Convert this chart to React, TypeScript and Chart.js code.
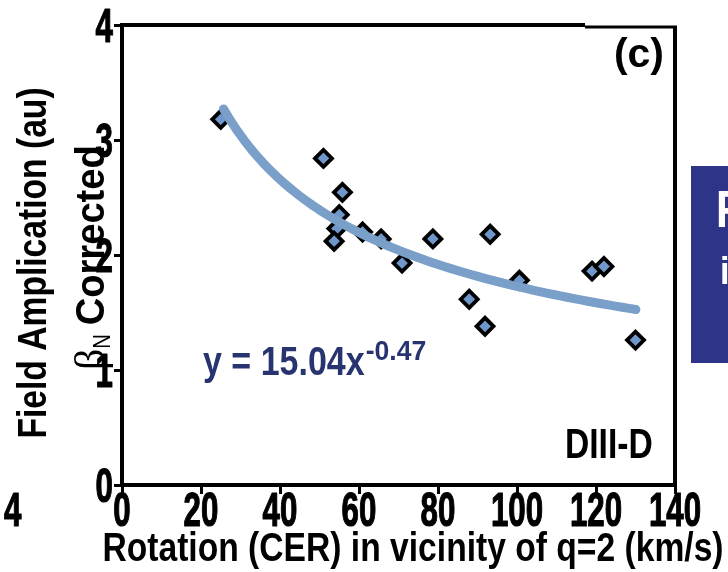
import React, { useEffect, useRef } from 'react';
import { Chart, registerables } from 'chart.js';

Chart.register(...registerables);

// Measured shots: toroidal rotation near q=2 vs. beta_N-corrected field amplification
const rotationKms = [25.0, 51.0, 55.8, 55.0, 54.4, 53.7, 60.9, 65.6, 70.9, 78.7, 93.2, 87.9, 91.9, 100.6, 119.0, 122.0, 130.0];
const fieldAmplification = [3.18, 2.84, 2.545, 2.35, 2.23, 2.12, 2.2, 2.14, 1.93, 2.14, 2.18, 1.615, 1.38, 1.78, 1.86, 1.9, 1.26];

// Power-law fit y = a * x^b, as quoted in the annotation
const fitCoefficient = 15.04;
const fitExponent = -0.47;
const fitDomain = [25.7, 130.1];
const fitSamples = 60;

const xTickValues = [0, 20, 40, 60, 80, 100, 120, 140];
const yTickValues = [0, 1, 2, 3, 4];

const SANS = '"Liberation Sans", Arial, sans-serif';

type TextStyle = {
  size: number;
  weight?: string;
  family?: string;
  sx?: number;
  sy?: number;
  color?: string;
  align?: CanvasTextAlign;
  stroke?: number;
};

function drawText(ctx: CanvasRenderingContext2D, text: string, x: number, y: number, st: TextStyle): number {
  const sx = st.sx ?? 1;
  ctx.save();
  ctx.translate(x, y);
  ctx.scale(sx, st.sy ?? 1);
  ctx.font = `${st.weight ?? 'bold'} ${st.size}px ${st.family ?? SANS}`;
  ctx.fillStyle = st.color ?? '#000';
  ctx.textAlign = st.align ?? 'left';
  ctx.textBaseline = 'alphabetic';
  ctx.fillText(text, 0, 0);
  if (st.stroke) {
    ctx.strokeStyle = st.color ?? '#000';
    ctx.lineWidth = st.stroke;
    ctx.lineJoin = 'round';
    ctx.strokeText(text, 0, 0);
  }
  const w = ctx.measureText(text).width * sx;
  ctx.restore();
  return w;
}

const tickStyle: TextStyle = { size: 46, sx: 0.68, sy: 1.03, stroke: 1.2 };
const titleStyle: TextStyle = { size: 41, sx: 0.82 };
const EQ_COLOR = '#28346f';

const annotations = {
  id: 'annotations',
  afterDatasetsDraw(chart: Chart) {
    const ctx = chart.ctx;
    const area = chart.chartArea;
    // frame: top and right edges
    ctx.save();
    ctx.strokeStyle = '#000';
    ctx.lineCap = 'butt';
    ctx.lineWidth = 4;
    ctx.beginPath();
    ctx.moveTo(area.left, area.top);
    ctx.lineTo(585, area.top);
    ctx.stroke();
    ctx.lineWidth = 3;
    ctx.beginPath();
    ctx.moveTo(585, area.top + 2);
    ctx.lineTo(area.right + 2, area.top + 2);
    ctx.stroke();
    ctx.lineWidth = 4;
    ctx.beginPath();
    ctx.moveTo(area.right, area.top + 1);
    ctx.lineTo(area.right, area.bottom + 2);
    ctx.stroke();
    ctx.restore();
  },
  afterDraw(chart: Chart) {
    const ctx = chart.ctx;
    const xs = chart.scales.x;
    const ys = chart.scales.y;

    // tick labels
    xTickValues.forEach((v) => {
      drawText(ctx, String(v), xs.getPixelForValue(v), 526, { ...tickStyle, align: 'center' });
    });
    yTickValues.forEach((v) => {
      drawText(ctx, String(v), 113, ys.getPixelForValue(v) + 17, { ...tickStyle, align: 'right' });
    });
    // neighbouring panel's label peeking in at the left edge
    drawText(ctx, '4', 4, 526, { ...tickStyle, align: 'left' });

    // x-axis title
    drawText(ctx, 'Rotation (CER) in vicinity of q=2 (km/s)', 413, 561, { ...titleStyle, align: 'center' });

    // y-axis title, two rotated lines
    ctx.save();
    ctx.translate(46, 263);
    ctx.rotate(-Math.PI / 2);
    drawText(ctx, 'Field Amplication (au)', 0, 0, { ...titleStyle, align: 'center' });
    ctx.restore();

    ctx.save();
    ctx.translate(104, 370);
    ctx.rotate(-Math.PI / 2);
    let cx = 0;
    cx += drawText(ctx, 'β', cx, 0, { size: 42, weight: 'normal', family: '"Liberation Serif", serif' });
    cx += drawText(ctx, 'N', cx, 6, { size: 24, weight: 'normal', sx: 0.85 });
    drawText(ctx, ' Corrected', cx - 2, 0, { size: 41, sx: 0.93 });
    ctx.restore();

    // fit equation
    const eqW = drawText(ctx, 'y = 15.04x', 203, 375, { size: 40, sx: 0.85, color: EQ_COLOR });
    drawText(ctx, '-0.47', 203 + eqW + 1, 360, { size: 28, sx: 0.95, color: EQ_COLOR });

    // panel tags
    drawText(ctx, '(c)', 664, 67, { size: 41, sx: 1.0, align: 'right' });
    drawText(ctx, 'DIII-D', 565, 458, { size: 41, sx: 0.82, sy: 1.04 });

    // edge of the adjacent callout box
    ctx.save();
    ctx.fillStyle = '#2e3588';
    ctx.fillRect(691, 166, 37, 197);
    ctx.restore();
    drawText(ctx, 'R', 716, 227, { size: 52, sx: 0.82, color: '#fff' });
    drawText(ctx, 'i', 720, 284, { size: 38, sx: 0.9, color: '#fff' });
  },
};

export default function App() {
  const canvasRef = useRef<HTMLCanvasElement | null>(null);

  useEffect(() => {
    const canvas = canvasRef.current;
    if (!canvas) return;

    const points = rotationKms.map((x, i) => ({ x, y: fieldAmplification[i] }));
    const fitLine: { x: number; y: number }[] = [];
    for (let i = 0; i <= fitSamples; i++) {
      const x = fitDomain[0] + ((fitDomain[1] - fitDomain[0]) * i) / fitSamples;
      fitLine.push({ x, y: fitCoefficient * Math.pow(x, fitExponent) });
    }

    const axisGrid = {
      drawOnChartArea: false,
      drawTicks: true,
      color: '#000',
      lineWidth: 3,
    };

    const chart = new Chart(canvas, {
      type: 'scatter',
      data: {
        datasets: [
          {
            type: 'line',
            label: 'fit',
            data: fitLine,
            borderColor: '#7aa0ca',
            borderWidth: 9,
            borderCapStyle: 'round',
            borderJoinStyle: 'round',
            pointRadius: 0,
            tension: 0,
            fill: false,
            order: 0,
          } as any,
          {
            label: 'shots',
            data: points,
            pointStyle: 'rectRot',
            pointRadius: 8.5,
            pointBorderWidth: 3.8,
            backgroundColor: '#6f97c9',
            borderColor: '#000',
            order: 1,
          } as any,
        ],
      },
      options: {
        responsive: false,
        animation: false,
        events: [],
        layout: { padding: { left: 0, right: 53, top: 25, bottom: 0 } },
        plugins: {
          legend: { display: false },
          tooltip: { enabled: false },
        },
        scales: {
          x: {
            type: 'linear',
            min: 0,
            max: 140,
            ticks: { stepSize: 20, display: false },
            grid: { ...axisGrid, tickLength: 9 },
            border: { display: true, color: '#000', width: 4 },
            afterFit: (s: any) => {
              s.height = 87;
            },
          },
          y: {
            type: 'linear',
            min: 0,
            max: 4,
            ticks: { stepSize: 1, display: false },
            grid: { ...axisGrid, tickLength: 8 },
            border: { display: true, color: '#000', width: 4 },
            afterFit: (s: any) => {
              s.width = 122;
            },
          },
        },
      },
      plugins: [annotations],
    });

    return () => chart.destroy();
  }, []);

  return (
    <div style={{ position: 'absolute', left: 0, top: 0, width: 728, height: 572, background: '#fff' }}>
      <canvas ref={canvasRef} width={728} height={572} style={{ display: 'block' }} />
    </div>
  );
}
